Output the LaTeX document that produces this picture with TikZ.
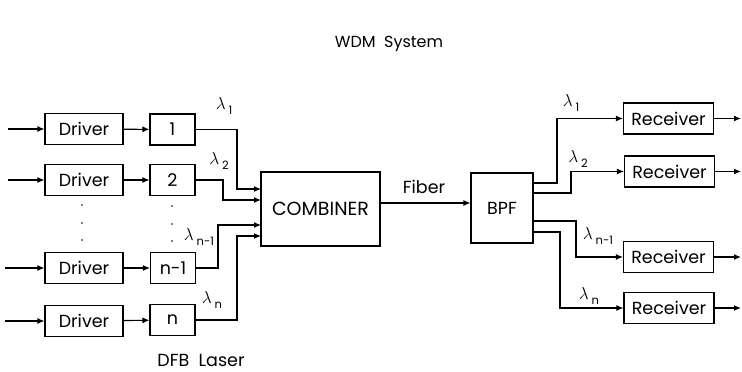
\documentclass[tikz,border=0pt]{standalone}
\usepackage{fontspec}
\setmainfont{Poppins}
\usetikzlibrary{arrows.meta,calc}
\newcommand{\lam}[1]{{\fontsize{17}{17}\selectfont$\lambda$}\,\raisebox{-0.6ex}{\fontsize{11.5}{11.5}\selectfont #1}}
\begin{document}
\begin{tikzpicture}[x=1pt,y=-1pt,
  every node/.style={inner sep=0pt,font=\fontsize{17.5}{17.5}\selectfont},
  box/.style={draw,line width=1.1pt},
  drv/.style={box,minimum width=78pt,minimum height=31pt},
  las/.style={box,minimum width=45pt,minimum height=31pt},
  rcv/.style={box,minimum width=90pt,minimum height=31pt},
  arr/.style={line width=1.1pt,-{Latex[length=7pt,width=6pt]}},
  lbl/.style={font=\fontsize{17}{17}\selectfont},
  dot/.style={fill,circle,minimum size=1.8pt}]
\useasboundingbox (0,0) rectangle (742,372);

\node[font=\fontsize{16}{16}\selectfont] (title) at (389,44) {WDM\ \ System};
\node (dfb) at (201,360) {DFB\ \ Laser};

% left side
\node[drv] (d1) at (84,129) {Driver};
\node[drv] (d2) at (84,180) {Driver};
\node[drv] (d3) at (84,268) {Driver};
\node[drv] (d4) at (84,321) {Driver};
\node[las] (l1) at (172.5,129.5) {1};
\node[las] (l2) at (172.5,180) {2};
\node[las] (l3) at (173,268) {n-1};
\node[las] (l4) at (172.5,320) {n};

\coordinate (s1) at (8,129);
\coordinate (s2) at (8,180);
\coordinate (s3) at (5,268);
\coordinate (s4) at (5,321);
\draw[arr] (s1) -- (d1);
\draw[arr] (s2) -- (d2);
\draw[arr] (s3) -- (d3);
\draw[arr] (s4) -- (d4);
\draw[arr] (d1) -- (l1);
\draw[arr] (d2) -- (l2);
\draw[arr] (d3) -- (l3);
\draw[arr] (d4) -- (l4);

\foreach \y [count=\i] in {205,223,240} {
  \node[dot] (da\i) at (82,\y) {};
  \node[dot] (db\i) at (172,\y+1) {};
}

\node[box,minimum width=119pt,minimum height=74pt,font=\fontsize{19}{19}\selectfont] (comb) at (320.5,209) {COMBINER};
\coordinate (c1) at (261,189);
\coordinate (c2) at (261,200);
\coordinate (c3) at (261,225);
\coordinate (c4) at (261,236);
\draw[arr] (l1.east) -| ($(c1)+(-24,0)$) -- (c1);
\draw[arr] (l2.east) -| ($(c2)+(-38,0)$) -- (c2);
\draw[arr] (l3.east) -| ($(c3)+(-43,0)$) -- (c3);
\draw[arr] (l4.east) -| ($(c4)+(-24,0)$) -- (c4);

\node[lbl] (ll1) at (224,106) {\lam{1}};
\node[lbl] (ll2) at (219,161) {\lam{2}};
\node[lbl] (ll3) at (199,237) {\lam{n-1}};
\node[lbl] (ll4) at (212,300) {\lam{n}};

% fiber
\node[box,minimum width=62pt,minimum height=70pt] (bpf) at (502,208) {BPF};
\draw[arr] ($(comb.east)+(0,-6)$) -- ($(bpf.west)+(0,-5)$);
\node (fib) at (424,187) {Fiber};

% right side
\node[rcv] (r1) at (668.5,118.5) {Receiver};
\node[rcv] (r2) at (669.5,171.5) {Receiver};
\node[rcv] (r3) at (668.5,257) {Receiver};
\node[rcv] (r4) at (669,308) {Receiver};

\coordinate (b1) at (533,183);
\coordinate (b2) at (533,193);
\coordinate (b3) at (533,221);
\coordinate (b4) at (533,232);
\draw[arr] (b1) -- ++(24,0) |- (r1.west);
\draw[arr] (b2) -- ++(38,0) |- (r2.west);
\draw[arr] (b3) -- ++(43,0) |- (r3.west);
\draw[arr] (b4) -- ++(27,0) |- (r4.west);

\coordinate (o1) at (741,118.5);
\coordinate (o2) at (741,171.5);
\coordinate (o3) at (741,257);
\coordinate (o4) at (741,308);
\draw[arr] (r1) -- (o1);
\draw[arr] (r2) -- (o2);
\draw[arr] (r3) -- (o3);
\draw[arr] (r4) -- (o4);

\node[lbl] (rl1) at (571,103) {\lam{1}};
\node[lbl] (rl2) at (578,159) {\lam{2}};
\node[lbl] (rl3) at (598,236) {\lam{n-1}};
\node[lbl] (rl4) at (589,296) {\lam{n}};
\end{tikzpicture}
\end{document}
